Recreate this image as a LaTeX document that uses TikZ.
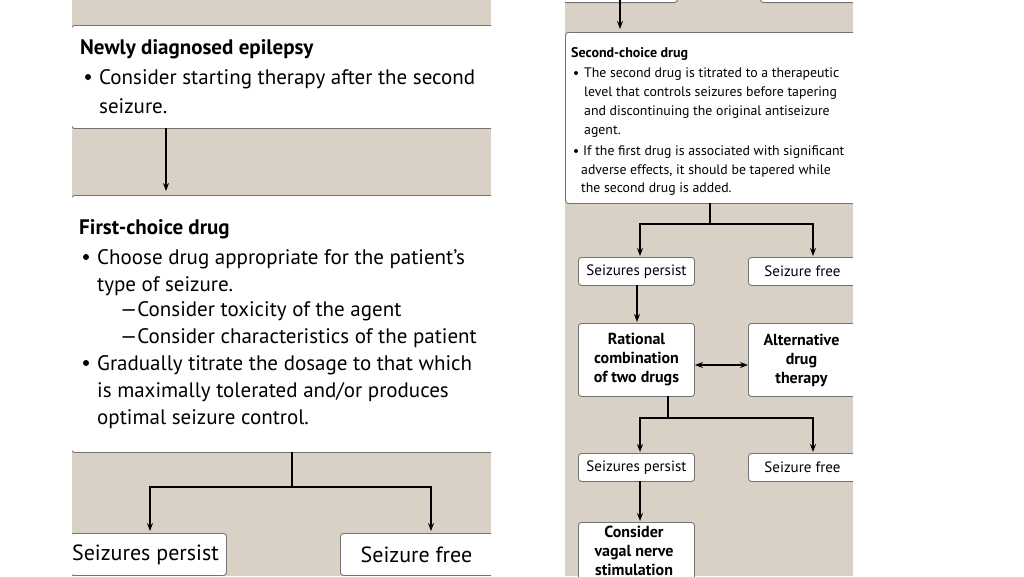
\documentclass[tikz,border=0pt]{standalone}
\usepackage{fontspec}
\setmainfont{PT Sans}
\usetikzlibrary{arrows.meta}
\definecolor{bg}{RGB}{217,209,197}
\begin{document}
\begin{tikzpicture}[x=1pt,y=-1pt,
 box/.style={draw=black!55,line width=0.9pt,fill=white,rounded corners=3pt,inner sep=0pt},
 sb/.style={box,minimum width=116pt,minimum height=28pt,font=\fontsize{15}{17}\selectfont},
 bb/.style={box,minimum width=116pt,minimum height=73pt,align=center,font=\bfseries\fontsize{16}{19}\selectfont},
 lb/.style={box,font=\fontsize{22}{24}\selectfont},
 tl/.style={anchor=base west,inner sep=0pt},
 dot/.style={fill=black,circle,inner sep=0pt},
 arr/.style={-{Stealth[length=8pt,width=6pt]},line width=1.1pt},
 ln/.style={line width=1.1pt}]
\useasboundingbox (0,0) rectangle (1024,576);
\fill[white] (0,0) rectangle (1024,576);
% LEFT PANEL
\begin{scope}
\clip (72,0) rectangle (491,576);
\fill[bg] (72,0) rectangle (491,576);
\node[lb,minimum width=440pt,minimum height=103pt,anchor=north west] (nde) at (71,25) {};
\node[lb,minimum width=440pt,minimum height=257pt,anchor=north west] (fcd) at (71,195) {};
\begin{scope}[font=\fontsize{21}{23}\selectfont]
\node[tl,font=\bfseries\fontsize{21}{23}\selectfont] at (80,54) {Newly diagnosed epilepsy};
\node[dot,minimum size=6pt] at (88,77) {};
\node[tl] at (99,84) {Consider starting therapy after the second};
\node[tl] at (99,113) {seizure.};
\node[tl,font=\bfseries\fontsize{21}{23}\selectfont] at (79,234) {First-choice drug};
\node[dot,minimum size=6pt] at (86,257) {};
\node[tl] at (97,264) {Choose drug appropriate for the patient's};
\node[tl] at (97,291) {type of seizure.};
\node[tl] at (120,316) {—Consider toxicity of the agent};
\node[tl] at (120,343) {—Consider characteristics of the patient};
\node[dot,minimum size=6pt] at (86,363) {};
\node[tl] at (97,370) {Gradually titrate the dosage to that which};
\node[tl] at (97,397) {is maximally tolerated and/or produces};
\node[tl] at (97,424) {optimal seizure control.};
\end{scope}
\node[lb,minimum width=156pt,minimum height=42pt,anchor=north west] (lsp) at (70,533) {\hspace*{-6pt}Seizures persist};
\node[lb,minimum width=160pt,minimum height=42pt,anchor=north west] (lsf) at (340,533) {\hspace*{-8pt}Seizure free};
\draw[arr] (166,128) -- (166,191);
\coordinate (l1) at (292,487);
\draw[ln] (292,452) -- (l1);
\draw[arr] (l1) -| (150,531);
\draw[arr] (l1) -| (431,531);
\end{scope}
% RIGHT PANEL
\begin{scope}
\clip (565,0) rectangle (853,576);
\fill[bg] (565,0) rectangle (853,576);
\node[box,minimum width=115pt,minimum height=10pt,anchor=south west] (t1) at (562,3) {};
\node[box,minimum width=100pt,minimum height=10pt,anchor=south west] (t2) at (760,3) {};
\draw[arr] (620,0) -- (620,29);
\node[box,minimum width=300pt,minimum height=171pt,anchor=north west] (scd) at (565,32) {};
\begin{scope}[font=\fontsize{13.8}{15}\selectfont]
\node[tl,font=\bfseries\fontsize{14}{15}\selectfont] at (571,57) {Second-choice drug};
\node[dot,minimum size=4pt] at (576,73) {};
\node[tl] at (584,77) {The second drug is titrated to a therapeutic};
\node[tl] at (584,96) {level that controls seizures before tapering};
\node[tl] at (584,115) {and discontinuing the original antiseizure};
\node[tl] at (584,134) {agent.};
\node[dot,minimum size=4pt] at (576,151) {};
\node[tl] at (583,155) {If the first drug is  associated with significant};
\node[tl] at (581,174) {adverse effects, it should be tapered while};
\node[tl] at (581,192) {the second drug is added.};
\end{scope}
\node[sb,anchor=north west] (sp1) at (578,257) {Seizures persist};
\node[sb,anchor=north west] (sf1) at (748,257) {\hspace*{-8pt}Seizure free};
\node[bb,anchor=north west] (rat) at (578,323) {Rational\\combination\\of two drugs};
\node[bb,anchor=north west] (alt) at (748,323) {\hspace*{-10pt}Alternative\\\hspace*{-10pt}drug\\\hspace*{-10pt}therapy};
\node[sb,anchor=north west] (sp2) at (578,453) {Seizures persist};
\node[sb,anchor=north west] (sf2) at (748,453) {\hspace*{-8pt}Seizure free};
\node[box,anchor=north west,minimum width=116pt,minimum height=80pt] (vag) at (578,522) {};
\node[anchor=north,align=center,inner sep=0pt,font=\bfseries\fontsize{16}{19}\selectfont] (vagt) at (634,526) {Consider\\vagal nerve\\stimulation};
\coordinate (r1) at (710,224);
\draw[ln] (710,203) -- (r1);
\draw[arr] (r1) -| (640,256);
\draw[arr] (r1) -| (813,256);
\draw[arr] (637,285) -- (637,322);
\draw[{Stealth[length=8pt,width=6pt]}-{Stealth[length=8pt,width=6pt]},line width=1.1pt] (rat.east |- 0,365) -- (alt.west |- 0,365);
\coordinate (r2) at (668,418);
\draw[ln] (668,396) -- (r2);
\draw[arr] (r2) -| (640,452);
\draw[arr] (r2) -| (813,452);
\draw[arr] (640,481) -- (640,521);
\end{scope}
\end{tikzpicture}
\end{document}
